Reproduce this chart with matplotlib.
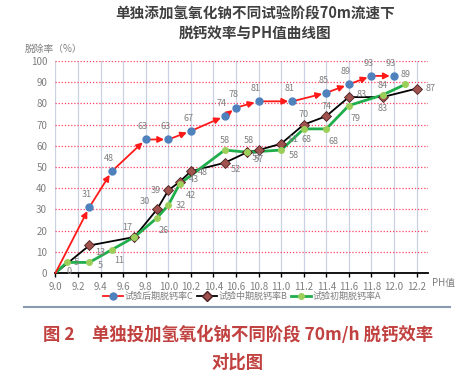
import numpy as np
import matplotlib.pyplot as plt
from matplotlib.lines import Line2D

plt.rcParams['font.family'] = ['Noto Sans CJK SC', 'DejaVu Sans']

# 试验后期 C
ph_c = [9.0, 9.3, 9.5, 9.8, 10.0, 10.2, 10.5, 10.6, 10.8, 11.1, 11.4, 11.6, 11.8, 12.0]
rate_c = [0, 31, 48, 63, 63, 67, 74, 78, 81, 81, 85, 89, 93, 93]
# 试验中期 B
ph_b = [9.0, 9.3, 9.7, 9.9, 10.0, 10.1, 10.2, 10.5, 10.7, 10.8, 11.0, 11.2, 11.4, 11.6, 11.9, 12.2]
rate_b = [0, 13, 17, 30, 39, 43, 48, 52, 57, 58, 61, 70, 74, 83, 83, 87]
# 试验初期 A
ph_a = [9.0, 9.1, 9.3, 9.5, 9.7, 9.9, 10.0, 10.1, 10.5, 10.7, 11.0, 11.2, 11.4, 11.6, 11.9, 12.1]
rate_a = [0, 5, 5, 11, 17, 26, 32, 42, 58, 57, 58, 68, 68, 79, 84, 89]

xticks = np.round(np.arange(9.0, 12.21, 0.2), 1)
yticks = np.arange(0, 101, 10)

# label offsets (points), one per point after the origin
off_b = [(8, -5), (-5, 7), (-9, 6), (-9, 0), (10, 2), (9, -1), (8, -5), (8, -5),
         (-7, 7), (9, 3), (0, 7), (0, 7), (9, 2), (0, -8), (10, 0)]
off_a = [(7, 0), (8, -2), (5, -8), None, (5, -9), (9, 0), (8, -8), (0, 7), (7, -4),
         (9, -4), (2, -8), (5, -9), (5, -9), (0, 7), (0, 7)]

gray = '#7f7f7f'

fig = plt.figure(figsize=(4.66, 3.84), dpi=100)
ax = fig.add_axes([0.119, 0.289, 0.799, 0.552])

# grid
for x in xticks:
    ax.axvline(x, color='#c9d1e3', lw=0.9, zorder=0)
for y in yticks[1:]:
    ax.axhline(y, color='#ff4060', lw=0.9, ls=(0, (1, 1.5)), zorder=0)

# B black
ax.plot(ph_b, rate_b, color='black', lw=1.3, zorder=3)
ax.plot(ph_b[1:], rate_b[1:], ls='none', marker='D', ms=5.5, mfc='#a0524f', mec='#4a2020', mew=0.6, zorder=4)
# A green
ax.plot(ph_a, rate_a, color='#1fae4b', lw=2.0, zorder=3.5)
ax.plot(ph_a[1:], rate_a[1:], ls='none', marker='o', ms=4, mfc='#9ccf5a', mec='#9ccf5a', zorder=4.5)
# C red with arrows
for i in range(1, len(ph_c)):
    ax.annotate('', xy=(ph_c[i], rate_c[i]), xytext=(ph_c[i-1], rate_c[i-1]),
                arrowprops=dict(arrowstyle='-|>', color='#ff1a1a', lw=1.3,
                                shrinkA=0, shrinkB=3, mutation_scale=9), zorder=5)
ax.plot(ph_c[1:], rate_c[1:], ls='none', marker='o', ms=5, mfc='#4f81bd', mec='#4f81bd', zorder=6)

# data labels
for x, y in zip(ph_c[1:], rate_c[1:]):
    ax.annotate(str(y), (x, y), xytext=(-2, 6), textcoords='offset points',
                ha='center', va='bottom', fontsize=6.5, color=gray, zorder=7)
for (x, y), o in zip(zip(ph_b[1:], rate_b[1:]), off_b):
    ax.annotate(str(y), (x, y), xytext=o, textcoords='offset points',
                ha='center', va='center', fontsize=6.5, color=gray, zorder=7)
for (x, y), o in zip(zip(ph_a[1:], rate_a[1:]), off_a):
    if o is None:
        continue
    ax.annotate(str(y), (x, y), xytext=o, textcoords='offset points',
                ha='center', va='center', fontsize=6.5, color=gray, zorder=7)
ax.annotate('0', (9.0, 0), xytext=(8, 1), textcoords='offset points',
            ha='left', va='center', fontsize=6.5, color=gray)

ax.set_xlim(9.0, 12.3)
ax.set_ylim(0, 100)
ax.set_xticks(xticks)
ax.set_xticklabels([f'{v:.1f}' for v in xticks])
ax.set_yticks(yticks)
ax.tick_params(axis='x', colors='black', labelcolor=gray, labelsize=7, length=3, width=1, direction='out')
ax.tick_params(axis='y', labelcolor=gray, labelsize=7, length=0, pad=6)
for s in ['top', 'right', 'left']:
    ax.spines[s].set_visible(False)
ax.spines['bottom'].set_linewidth(1.3)

fig.text(0.054, 0.873, '脱除率（%）', fontsize=7, color=gray, ha='left', va='center')
fig.text(0.927, 0.262, 'PH值', fontsize=7, color=gray, ha='left', va='center')

fig.text(0.548, 0.965, '单独添加氢氧化钠不同试验阶段70m流速下', fontsize=10.5,
         fontweight='bold', color='#404040', ha='center', va='center')
fig.text(0.548, 0.915, '脱钙效率与PH值曲线图', fontsize=10.5,
         fontweight='bold', color='#404040', ha='center', va='center')

handles = [
    Line2D([], [], color='#ff1a1a', lw=1.3, marker='o', ms=5, mfc='#4f81bd', mec='#4f81bd'),
    Line2D([], [], color='black', lw=1.3, marker='D', ms=5, mfc='#a0524f', mec='#4a2020'),
    Line2D([], [], color='#1fae4b', lw=2, marker='o', ms=4, mfc='#9ccf5a', mec='#9ccf5a'),
]
labels = ['试验后期脱钙率C', '试验中期脱钙率B', '试验初期脱钙率A']
fig.legend(handles, labels, loc='center', bbox_to_anchor=(0.52, 0.228), ncol=3,
           frameon=False, fontsize=6.5, labelcolor=gray, handlelength=2.2,
           handletextpad=0.2, columnspacing=0.4)

fig.add_artist(Line2D([0.052, 0.965], [0.2, 0.2], color='#8a9bb0', lw=1.5))
fig.text(0.51, 0.128, '图 2　单独投加氢氧化钠不同阶段 70m/h 脱钙效率', fontsize=12.5,
         fontweight='bold', color='#c0413f', ha='center', va='center')
fig.text(0.51, 0.055, '对比图', fontsize=12.5, fontweight='bold', color='#c0413f',
         ha='center', va='center')

fig.savefig('out.png', dpi=100)
